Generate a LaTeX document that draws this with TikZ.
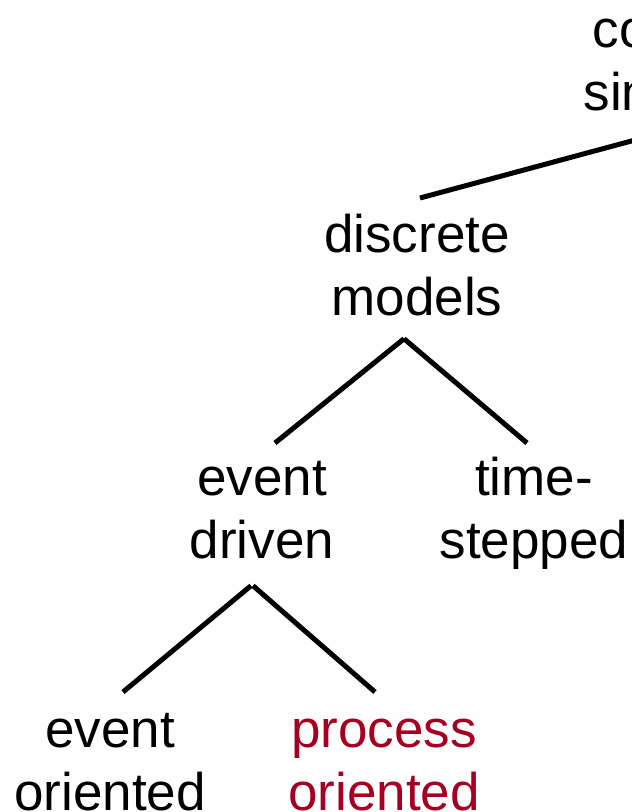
\documentclass[tikz,border=0pt]{standalone}
\usepackage{fontspec}
\setmainfont{Liberation Sans}
\definecolor{procred}{HTML}{A50021}
\usetikzlibrary{positioning, calc}

\begin{document}
\begin{tikzpicture}[x=1pt, y=-1pt,
  treenode/.style={font=\fontsize{53}{63}\selectfont, align=center, inner sep=0pt, anchor=base},
  branch/.style={line width=5pt},
]
\useasboundingbox (0,0) rectangle (632,812);
\clip (0,0) rectangle (632,812);

\node[treenode] (sim) at (703,110) {computer\\simulation};
\node[treenode] (dm) at (417,315) {discrete\\models};
\node[treenode] (ed) at (262,558) {event\\driven};
\node[treenode] (ts) at (534,558) {time-\\stepped};
\node[treenode] (eo) at (110,810) {event\\oriented};
\node[treenode, text=procred] (po) at (384,810) {process\\oriented};

% Branches
\draw[branch] ([yshift=-11pt]sim.south) -- ([xshift=3pt,yshift=117pt]dm.base);
\draw[branch] ([xshift=-13pt,yshift=-23pt]dm.south) -- ([xshift=13pt,yshift=115pt]ed.base);
\draw[branch] ([xshift=-13pt,yshift=-23pt]dm.south) -- ([xshift=-7pt,yshift=115pt]ts.base);
\draw[branch] ([xshift=-11pt,yshift=-27pt]ed.south) -- ([xshift=13pt,yshift=118pt]eo.base);
\draw[branch] ([xshift=-9pt,yshift=-27pt]ed.south) -- ([xshift=-9pt,yshift=118pt]po.base);

\end{tikzpicture}
\end{document}
